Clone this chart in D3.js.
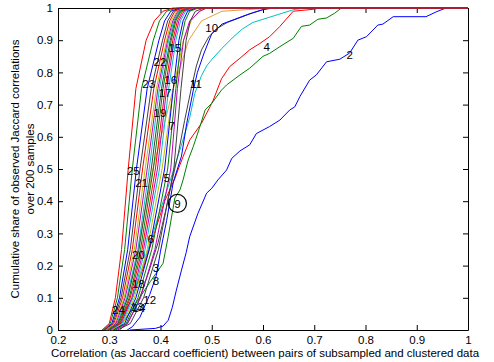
<!DOCTYPE html>
<html>
<head>
<meta charset="utf-8">
<script src="https://cdn.jsdelivr.net/npm/d3@7"></script>
<style>
  body { margin: 0; background: #fff; }
  svg text { font-family: "Liberation Sans", Arial, sans-serif; }
</style>
</head>
<body>
<svg id="svg" width="494" height="362"></svg>
<script>
// axis ticks
const xTicks = [0.2, 0.3, 0.4, 0.5, 0.6, 0.7, 0.8, 0.9, 1];
const xTickLabels = ['0.2', '0.3', '0.4', '0.5', '0.6', '0.7', '0.8', '0.9', '1'];
const yTicks = [0, 0.1, 0.2, 0.3, 0.4, 0.5, 0.6, 0.7, 0.8, 0.9, 1];
const yTickLabels = ['0', '0.1', '0.2', '0.3', '0.4', '0.5', '0.6', '0.7', '0.8', '0.9', '1'];

// bundle curves: correlation reached at each cumulative share
const shareLevels = [0, 0.02, 0.1, 0.25, 0.5, 0.75, 0.9, 0.96, 0.99, 1, 1];
const bundleIds = [13, 25, 23, 22, 21, 20, 19, 18, 17, 16, 14, 12, 8, 7, 3, 6, 15, 5, 24];
const bundleX = [
  [0.300, 0.318, 0.336, 0.356, 0.385, 0.425, 0.455, 0.480, 0.520, 0.620, 1],
  [0.288, 0.302, 0.316, 0.330, 0.345, 0.363, 0.386, 0.398, 0.412, 0.432, 1],
  [0.290, 0.305, 0.320, 0.336, 0.353, 0.374, 0.397, 0.408, 0.420, 0.438, 1],
  [0.291, 0.307, 0.323, 0.341, 0.360, 0.382, 0.404, 0.414, 0.425, 0.442, 1],
  [0.293, 0.309, 0.326, 0.345, 0.365, 0.387, 0.408, 0.418, 0.428, 0.445, 1],
  [0.294, 0.311, 0.329, 0.349, 0.370, 0.392, 0.412, 0.421, 0.432, 0.448, 1],
  [0.296, 0.313, 0.331, 0.352, 0.374, 0.395, 0.414, 0.424, 0.434, 0.450, 1],
  [0.297, 0.315, 0.334, 0.356, 0.378, 0.398, 0.416, 0.426, 0.436, 0.452, 1],
  [0.298, 0.317, 0.336, 0.358, 0.382, 0.402, 0.419, 0.428, 0.438, 0.455, 1],
  [0.300, 0.319, 0.339, 0.361, 0.386, 0.405, 0.421, 0.430, 0.440, 0.458, 1],
  [0.301, 0.321, 0.341, 0.364, 0.390, 0.409, 0.424, 0.433, 0.443, 0.460, 1],
  [0.303, 0.323, 0.344, 0.367, 0.394, 0.412, 0.427, 0.436, 0.446, 0.463, 1],
  [0.304, 0.325, 0.346, 0.370, 0.398, 0.416, 0.430, 0.439, 0.449, 0.466, 1],
  [0.306, 0.327, 0.349, 0.374, 0.403, 0.425, 0.445, 0.460, 0.475, 0.490, 1],
  [0.308, 0.330, 0.352, 0.378, 0.408, 0.425, 0.436, 0.444, 0.453, 0.470, 1],
  [0.310, 0.333, 0.356, 0.383, 0.414, 0.430, 0.440, 0.448, 0.457, 0.474, 1],
  [0.312, 0.336, 0.361, 0.389, 0.420, 0.433, 0.445, 0.457, 0.477, 0.490, 1],
  [0.316, 0.341, 0.367, 0.396, 0.426, 0.440, 0.450, 0.458, 0.468, 0.485, 1],
  [0.286, 0.300, 0.312, 0.324, 0.337, 0.352, 0.372, 0.388, 0.405, 0.424, 1]
];

// curves that leave the bundle: [correlation, cumulative share]
const curve1 = [[0.30, 0], [0.325, 0.03], [0.345, 0.1], [0.37, 0.22], [0.395, 0.35], [0.42, 0.47], [0.44, 0.57], [0.457, 0.66], [0.467, 0.735], [0.48, 0.79], [0.49, 0.82], [0.50, 0.84], [0.52, 0.875], [0.542, 0.91], [0.56, 0.935], [0.58, 0.955], [0.60, 0.965], [0.63, 0.98], [0.66, 0.995], [0.68, 1], [1, 1]];
const curve2 = [[0.34, 0], [0.39, 0.005], [0.405, 0.012], [0.415, 0.03], [0.423, 0.07], [0.431, 0.124], [0.441, 0.186], [0.45, 0.24], [0.457, 0.29], [0.473, 0.362], [0.49, 0.425], [0.50, 0.44], [0.512, 0.466], [0.529, 0.497], [0.539, 0.533], [0.555, 0.556], [0.574, 0.575], [0.587, 0.61], [0.613, 0.632], [0.633, 0.652], [0.652, 0.683], [0.662, 0.693], [0.672, 0.725], [0.691, 0.776], [0.704, 0.792], [0.724, 0.833], [0.75, 0.841], [0.769, 0.86], [0.785, 0.90], [0.802, 0.911], [0.824, 0.947], [0.834, 0.95], [0.854, 0.973], [0.918, 0.973], [0.938, 0.988], [0.957, 1], [1, 1]];
const curve4 = [[0.30, 0], [0.325, 0.04], [0.345, 0.1], [0.368, 0.2], [0.388, 0.3], [0.408, 0.4], [0.428, 0.47], [0.434, 0.497], [0.444, 0.538], [0.457, 0.59], [0.48, 0.642], [0.50, 0.704], [0.503, 0.714], [0.519, 0.78], [0.535, 0.818], [0.555, 0.844], [0.574, 0.87], [0.594, 0.89], [0.613, 0.911], [0.633, 0.943], [0.659, 0.99], [0.698, 0.996], [0.71, 1], [1, 1]];
const curve9 = [[0.305, 0], [0.33, 0.03], [0.355, 0.09], [0.38, 0.15], [0.405, 0.207], [0.415, 0.29], [0.428, 0.41], [0.438, 0.435], [0.444, 0.466], [0.454, 0.528], [0.464, 0.57], [0.477, 0.632], [0.487, 0.683], [0.5, 0.704], [0.519, 0.745], [0.529, 0.761], [0.555, 0.792], [0.574, 0.813], [0.6, 0.85], [0.613, 0.859], [0.633, 0.88], [0.659, 0.906], [0.675, 0.943], [0.691, 0.947], [0.707, 0.965], [0.724, 0.969], [0.74, 0.984], [0.753, 1], [1, 1]];
const curve10 = [[0.32, 0], [0.335, 0.02], [0.355, 0.08], [0.375, 0.17], [0.395, 0.27], [0.41, 0.37], [0.422, 0.46], [0.435, 0.55], [0.447, 0.65], [0.46, 0.75], [0.47, 0.82], [0.48, 0.87], [0.494, 0.91], [0.509, 0.935], [0.53, 0.955], [0.555, 0.97], [0.58, 0.985], [0.61, 1], [1, 1]];
const curve11 = [[0.335, 0], [0.345, 0.01], [0.36, 0.04], [0.379, 0.11], [0.392, 0.17], [0.40, 0.245], [0.412, 0.34], [0.425, 0.46], [0.441, 0.54], [0.451, 0.64], [0.464, 0.745], [0.472, 0.8], [0.485, 0.86], [0.50, 0.92], [0.52, 0.95], [0.545, 0.965], [0.57, 0.98], [0.60, 0.995], [0.62, 1], [1, 1]];
const outlierIds = [1, 2, 4, 9, 10, 11];
const outlierCurves = [curve1, curve2, curve4, curve9, curve10, curve11];

// where each cluster number is written: [correlation, share]
const labelIds = [1, 2, 3, 4, 5, 6, 7, 8, 9, 10, 11, 12, 13, 14, 15, 16, 17, 18, 19, 20, 21, 22, 23, 24, 25];
const labelAt = [
  [0.464, 0.764], [0.769, 0.854], [0.391, 0.194], [0.607, 0.880], [0.412, 0.471],
  [0.381, 0.282], [0.422, 0.634], [0.391, 0.154], [0.433, 0.393], [0.500, 0.938],
  [0.469, 0.764], [0.379, 0.095], [0.354, 0.073], [0.358, 0.070], [0.428, 0.875],
  [0.420, 0.776], [0.409, 0.735], [0.357, 0.143], [0.399, 0.675], [0.357, 0.233],
  [0.363, 0.456], [0.399, 0.833], [0.377, 0.764], [0.318, 0.064], [0.347, 0.495]
];
const circledId = 9;

// matlab style line colours per cluster
const curveColor = {
  1: '#00bfbf', 2: '#0000ff', 3: '#0000ff', 4: '#ff0000', 5: '#404040',
  6: '#008000', 7: '#bfbf00', 8: '#00bfbf', 9: '#008000', 10: '#404040',
  11: '#0000ff', 12: '#bf00bf', 13: '#e0a040', 14: '#ff0000', 15: '#bf00bf',
  16: '#008000', 17: '#404040', 18: '#00bfbf', 19: '#bf00bf', 20: '#bfbf00',
  21: '#ff0000', 22: '#404040', 23: '#0000ff', 24: '#ff0000', 25: '#008000'
};

const fontSize = 11.5;
const margin = { top: 8, right: 26, bottom: 32, left: 58 };
const width = 494 - margin.left - margin.right;
const height = 362 - margin.top - margin.bottom;

const svg = d3.select('#svg');
const g = svg.append('g')
  .attr('transform', 'translate(' + margin.left + ',' + margin.top + ')');

const x = d3.scaleLinear().domain([0.2, 1]).range([0, width]);
const y = d3.scaleLinear().domain([0, 1]).range([height, 0]);

function styleAxis(sel) {
  sel.attr('font-family', '"Liberation Sans", Arial, sans-serif').attr('font-size', fontSize);
  sel.selectAll('path').attr('stroke', '#000').attr('stroke-width', 1);
  sel.selectAll('line').attr('stroke', '#000');
  sel.selectAll('text').attr('fill', '#000');
}

// box with inward ticks on all sides
g.append('g')
  .attr('transform', 'translate(0,' + height + ')')
  .call(d3.axisBottom(x).tickValues(xTicks).tickFormat((d, i) => xTickLabels[i])
    .tickSizeInner(-5).tickSizeOuter(0).tickPadding(5.5))
  .call(styleAxis);
g.append('g')
  .call(d3.axisTop(x).tickValues(xTicks).tickFormat('').tickSizeInner(-5).tickSizeOuter(0))
  .call(styleAxis);
g.append('g')
  .call(d3.axisLeft(y).tickValues(yTicks).tickFormat((d, i) => yTickLabels[i])
    .tickSizeInner(-5).tickSizeOuter(0).tickPadding(5))
  .call(styleAxis);
g.append('g')
  .attr('transform', 'translate(' + width + ',0)')
  .call(d3.axisRight(y).tickValues(yTicks).tickFormat('').tickSizeInner(-5).tickSizeOuter(0))
  .call(styleAxis);

const line = d3.line()
  .x((d) => x(d[0]))
  .y((d) => y(d[1]));

const series = [];
outlierIds.forEach((id, i) => series.push({ id: id, pts: outlierCurves[i] }));
bundleIds.forEach((id, i) => {
  series.push({ id: id, pts: bundleX[i].map((v, j) => [v, shareLevels[j]]) });
});

g.append('g')
  .attr('fill', 'none')
  .attr('stroke-width', 1)
  .selectAll('path')
  .data(series)
  .join('path')
  .attr('stroke', (d) => curveColor[d.id])
  .attr('d', (d) => line(d.pts));

// cluster numbers
const labels = g.append('g')
  .attr('font-size', fontSize)
  .attr('fill', '#000')
  .attr('text-anchor', 'middle');
labels.selectAll('text')
  .data(labelIds)
  .join('text')
  .attr('x', (d, i) => x(labelAt[i][0]))
  .attr('y', (d, i) => y(labelAt[i][1]))
  .attr('dy', '0.36em')
  .text((d) => d);

const ci = labelIds.indexOf(circledId);
g.append('circle')
  .attr('cx', x(labelAt[ci][0]))
  .attr('cy', y(labelAt[ci][1]))
  .attr('r', 9)
  .attr('fill', 'none')
  .attr('stroke', '#000')
  .attr('stroke-width', 1.2);

// axis titles
svg.append('text')
  .attr('x', margin.left + width / 2 + 2)
  .attr('y', 356.5)
  .attr('text-anchor', 'middle')
  .attr('font-size', fontSize)
  .text('Correlation (as Jaccard coefficient) between pairs of subsampled and clustered data');

const yTitle = svg.append('text')
  .attr('transform', 'translate(0,' + (margin.top + height / 2) + ') rotate(-90)')
  .attr('text-anchor', 'middle')
  .attr('font-size', fontSize);
yTitle.append('tspan').attr('x', 0).attr('y', 18.5).text('Cumulative share of observed Jaccard correlations');
yTitle.append('tspan').attr('x', 0).attr('y', 33.5).text('over 200 samples');
</script>
</body>
</html>
